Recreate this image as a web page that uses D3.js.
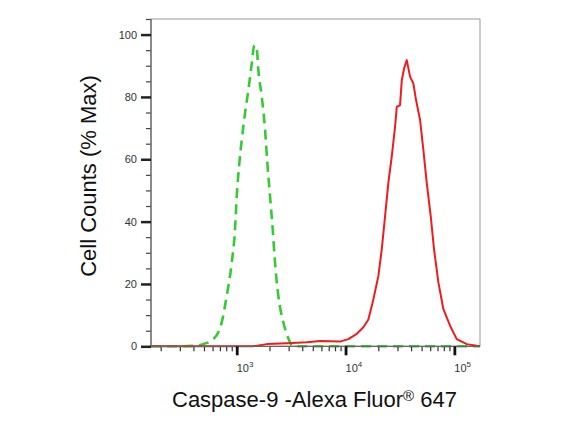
<!DOCTYPE html>
<html>
<head>
<meta charset="utf-8">
<script src="https://cdn.jsdelivr.net/npm/d3@7"></script>
<style>
  body { margin: 0; background: #fff; }
  text { font-family: "Liberation Sans", Arial, sans-serif; }
</style>
</head>
<body>
<script>
// isotype control (green, dashed)
var controlX = [163, 300, 420, 493, 610, 728, 809, 900, 964, 1000, 1057, 1112, 1192, 1279, 1374, 1452,
  1527, 1580, 1698, 1821, 1911, 2023, 2141, 2249, 2411, 2680, 2918, 3300, 172000];
var controlY = [0, 0, 0.2, 0.7, 2.3, 7.7, 16.2, 26.8, 37.5, 48.1, 58.8, 66.2, 74.8, 82.2, 90.7, 96.6,
  95.5, 88.6, 80.1, 69.5, 58.8, 48.1, 37.5, 26.8, 16.2, 7.7, 3.4, 0, 0];

// caspase-9 stained (red)
var stainedX = [163, 1412, 1888, 2884, 4399, 5832, 8900, 10610, 12680, 14580, 16210, 18030, 20010, 21510,
  23070, 24730, 26590, 28510, 29570, 31690, 32870, 34510, 36520, 39150, 41980, 44460, 48390, 51900,
  55720, 60670, 65040, 71280, 79250, 91290, 105100, 130000, 160700, 172000];
var stainedY = [0, 0, 0.7, 1.0, 1.3, 1.7, 1.5, 2.3, 4.0, 6.1, 8.6, 15.1, 22.5, 31.1,
  41.7, 52.4, 60.9, 70.4, 76.8, 77.4, 85.4, 89.1, 91.8, 86.5, 84.3, 79.0, 72.6, 63.0,
  52.4, 41.7, 31.1, 20.5, 11.9, 6.6, 2.3, 0.7, 0.2, 0.1];

var yTicks = [0, 20, 40, 60, 80, 100];
var yMinorTicks = [5, 10, 15, 25, 30, 35, 45, 50, 55, 65, 70, 75, 85, 90, 95, 105];
var xTicks = [1e3, 1e4, 1e5];
var xTickExps = ["3", "4", "5"];
var xMinorTicks = [200, 300, 400, 500, 600, 700, 800, 900,
  2000, 3000, 4000, 5000, 6000, 7000, 8000, 9000,
  20000, 30000, 40000, 50000, 60000, 70000, 80000, 90000];

var margin = {top: 19, right: 83, bottom: 82, left: 151};
var width = 563 - margin.left - margin.right;
var height = 429 - margin.top - margin.bottom - 0.7;

var svg = d3.select("body").append("svg")
  .attr("width", 563)
  .attr("height", 429);

var canvas = svg.append("g")
  .attr("transform", "translate(" + margin.left + "," + margin.top + ")");

var x = d3.scaleLog()
  .domain([163, 172000])
  .range([0, width]);

var y = d3.scaleLinear()
  .domain([0, 105])
  .range([height, 0]);

// frame
canvas.append("rect")
  .attr("width", width)
  .attr("height", height)
  .attr("fill", "none")
  .attr("stroke", "#999")
  .attr("stroke-width", 1);

var line = d3.line()
  .x(function(d) { return x(d[0]); })
  .y(function(d) { return y(d[1]); });

canvas.append("path")
  .datum(d3.zip(controlX, controlY))
  .attr("fill", "none")
  .attr("stroke", "#33cc33")
  .attr("stroke-width", 2.6)
  .attr("stroke-dasharray", "10,6")
  .attr("d", line.curve(d3.curveMonotoneX));

canvas.append("path")
  .datum(d3.zip(stainedX, stainedY))
  .attr("fill", "none")
  .attr("stroke", "#ee1c1c")
  .attr("stroke-width", 2)
  .attr("stroke-linejoin", "round")
  .attr("d", line.curve(d3.curveLinear));

// y axis
var yMinor = canvas.append("g")
  .call(d3.axisLeft(y).tickValues(yMinorTicks).tickSize(5).tickSizeOuter(0).tickFormat(""));
yMinor.select(".domain").remove();
yMinor.selectAll("line").attr("stroke", "#444").attr("stroke-width", 1.2);

var yAxis = canvas.append("g")
  .call(d3.axisLeft(y).tickValues(yTicks).tickSize(10).tickPadding(4).tickSizeOuter(0));
yAxis.select(".domain").attr("stroke", "#666").attr("stroke-width", 1.3)
  .attr("d", "M0," + height + "V0");
yAxis.selectAll("line").attr("stroke", "#222").attr("stroke-width", 2.5);
yAxis.selectAll("text")
  .attr("font-size", 11)
  .attr("fill", "#333")
  .style("font-family", "'Liberation Sans', Arial, sans-serif");

// x axis
var xMinor = canvas.append("g")
  .attr("transform", "translate(0," + height + ")")
  .call(d3.axisBottom(x).tickValues(xMinorTicks).tickSize(5).tickSizeOuter(0).tickFormat(""));
xMinor.select(".domain").remove();
xMinor.selectAll("line").attr("stroke", "#333").attr("stroke-width", 1.2);

var xAxis = canvas.append("g")
  .attr("transform", "translate(0," + height + ")")
  .call(d3.axisBottom(x).tickValues(xTicks).tickSize(9).tickSizeOuter(0).tickFormat(""));
xAxis.select(".domain").attr("stroke", "#666").attr("stroke-width", 1.3)
  .attr("d", "M0,0H" + width);
xAxis.selectAll("line").attr("stroke", "#111").attr("stroke-width", 2.8);

var xLabels = canvas.append("g")
  .selectAll("text")
  .data(xTicks)
  .enter()
    .append("text")
      .attr("x", function(d) { return x(d); })
      .attr("y", height + 26)
      .attr("font-size", 11)
      .attr("fill", "#333");
xLabels.append("tspan").text("10");
xLabels.append("tspan")
  .attr("dy", -5)
  .attr("font-size", 8)
  .text(function(d, i) { return xTickExps[i]; });

// axis titles
var xTitle = svg.append("text")
  .attr("x", 314.5)
  .attr("y", 407)
  .attr("text-anchor", "middle")
  .attr("font-size", 22)
  .attr("fill", "#111");
xTitle.append("tspan").text("Caspase-9 -Alexa Fluor");
xTitle.append("tspan").attr("dy", -6).attr("font-size", 15).text("®");
xTitle.append("tspan").attr("dy", 6).text(" 647");

svg.append("text")
  .attr("transform", "translate(96,176) rotate(-90)")
  .attr("text-anchor", "middle")
  .attr("font-size", 22)
  .attr("fill", "#111")
  .text("Cell Counts (% Max)");
</script>
</body>
</html>
